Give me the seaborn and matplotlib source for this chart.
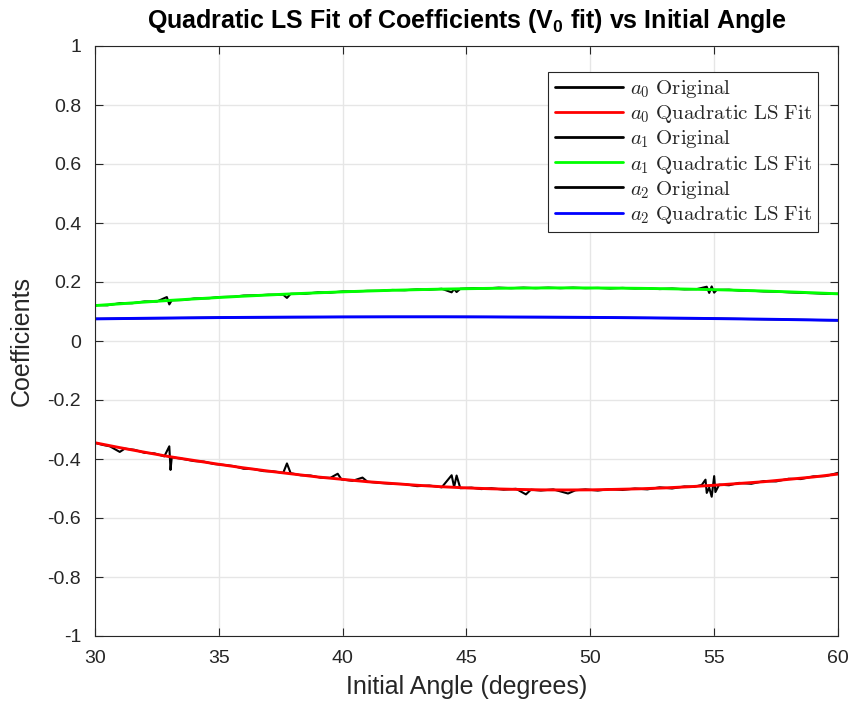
import numpy as np
import pandas as pd
import matplotlib
matplotlib.use("Agg")
import matplotlib.pyplot as plt
from matplotlib.font_manager import FontProperties
import seaborn as sns

# ---- data -------------------------------------------------------------
fit_angle = list(range(30, 61))

a0_fit = [-0.345, -0.3615, -0.377, -0.392, -0.405, -0.418, -0.430, -0.441,
          -0.451, -0.461, -0.469, -0.477, -0.483, -0.489, -0.494, -0.498,
          -0.501, -0.503, -0.5046, -0.505, -0.5046, -0.503, -0.501, -0.498,
          -0.494, -0.489, -0.483, -0.477, -0.469, -0.461, -0.451]

a1_fit = [0.120, 0.126, 0.132, 0.1375, 0.1426, 0.1475, 0.152, 0.156, 0.160,
          0.1634, 0.1666, 0.1694, 0.1719, 0.174, 0.1758, 0.1773, 0.1785,
          0.1793, 0.1798, 0.180, 0.1798, 0.1793, 0.1785, 0.1773, 0.1758,
          0.174, 0.1719, 0.1694, 0.1666, 0.1634, 0.160]

a2_fit = [0.0750, 0.0760, 0.0770, 0.0779, 0.0786, 0.0794, 0.0800, 0.0805,
          0.0810, 0.0813, 0.0816, 0.0818, 0.0820, 0.0820, 0.0820, 0.0818,
          0.0816, 0.0813, 0.0810, 0.0805, 0.0800, 0.0794, 0.0786, 0.0779,
          0.0770, 0.0760, 0.0750, 0.0739, 0.0727, 0.0714, 0.0700]

a0_orig_angle = [30.0, 30.3, 30.6, 31.0, 31.2, 31.6, 32.0, 32.4, 32.8, 33.0,
                 33.05, 33.1, 33.5, 34.0, 34.4, 34.8, 35.2, 35.6, 36.0, 36.4,
                 36.8, 37.2, 37.6, 37.75, 37.9, 38.3, 38.7, 39.1, 39.5, 39.8,
                 39.95, 40.4, 40.8, 41.0, 41.5, 42.0, 42.5, 43.0, 43.5, 44.0,
                 44.4, 44.5, 44.6, 44.75, 45.2, 45.6, 46.0, 46.5, 47.0, 47.4,
                 47.6, 48.0, 48.5, 49.1, 49.4, 49.8, 50.3, 50.8, 51.3, 51.8,
                 52.3, 52.8, 53.3, 53.8, 54.2, 54.5, 54.65, 54.7, 54.8, 54.9,
                 55.0, 55.05, 55.2, 55.6, 56.0, 56.5, 57.0, 57.5, 58.0, 58.5,
                 59.0, 59.5, 60.0]
a0_orig = [-0.345, -0.352, -0.357, -0.376, -0.365, -0.369, -0.379, -0.381,
           -0.391, -0.357, -0.437, -0.394, -0.399, -0.407, -0.409, -0.417,
           -0.420, -0.424, -0.433, -0.434, -0.441, -0.442, -0.447, -0.415,
           -0.448, -0.455, -0.456, -0.463, -0.464, -0.450, -0.469, -0.474,
           -0.463, -0.477, -0.481, -0.484, -0.485, -0.492, -0.490, -0.496,
           -0.455, -0.495, -0.456, -0.499, -0.497, -0.502, -0.499, -0.504,
           -0.501, -0.520, -0.504, -0.507, -0.503, -0.517, -0.506, -0.503,
           -0.507, -0.502, -0.505, -0.500, -0.503, -0.496, -0.500, -0.493,
           -0.494, -0.488, -0.470, -0.515, -0.497, -0.528, -0.458, -0.512,
           -0.487, -0.489, -0.481, -0.484, -0.475, -0.476, -0.467, -0.468,
           -0.459, -0.458, -0.447]

a1_orig_angle = [30.0, 30.5, 31.0, 31.5, 32.0, 32.5, 32.9, 33.0, 33.1, 33.6,
                 34.0, 34.6, 35.0, 35.6, 36.0, 36.6, 37.0, 37.6, 37.75, 37.9,
                 38.5, 39.0, 39.5, 40.0, 40.5, 41.0, 41.5, 42.0, 42.5, 43.0,
                 43.5, 44.0, 44.4, 44.5, 44.6, 44.75, 45.3, 45.8, 46.3, 46.8,
                 47.3, 47.8, 48.3, 48.8, 49.3, 49.8, 50.3, 50.8, 51.3, 51.8,
                 52.3, 52.8, 53.3, 53.8, 54.3, 54.7, 54.8, 54.9, 55.0, 55.1,
                 55.6, 56.0, 56.6, 57.0, 57.6, 58.0, 58.6, 59.0, 59.5, 60.0]
a1_orig = [0.122, 0.121, 0.128, 0.128, 0.134, 0.134, 0.149, 0.124, 0.138,
           0.139, 0.144, 0.145, 0.149, 0.150, 0.154, 0.155, 0.157, 0.157,
           0.146, 0.160, 0.160, 0.165, 0.164, 0.168, 0.168, 0.170, 0.170,
           0.173, 0.172, 0.175, 0.174, 0.177, 0.165, 0.176, 0.166, 0.177,
           0.179, 0.178, 0.181, 0.179, 0.181, 0.179, 0.181, 0.179, 0.181,
           0.179, 0.180, 0.178, 0.180, 0.178, 0.179, 0.176, 0.178, 0.175,
           0.176, 0.184, 0.163, 0.185, 0.164, 0.173, 0.174, 0.171, 0.170,
           0.168, 0.167, 0.165, 0.163, 0.162, 0.160, 0.160]

a2_orig_angle = [30, 35, 40, 45, 50, 55, 60]
a2_orig = [0.0750, 0.0795, 0.0815, 0.0818, 0.0800, 0.0761, 0.0700]

x_ticks = [30, 35, 40, 45, 50, 55, 60]
y_ticks = [-1, -0.8, -0.6, -0.4, -0.2, 0, 0.2, 0.4, 0.6, 0.8, 1]
y_tick_labels = ["-1", "-0.8", "-0.6", "-0.4", "-0.2", "0",
                 "0.2", "0.4", "0.6", "0.8", "1"]

# ---- style ------------------------------------------------------------
sns.set_style("white")
plt.rcParams["font.family"] = ["Liberation Sans", "DejaVu Sans"]
plt.rcParams["axes.unicode_minus"] = False
plt.rcParams["mathtext.fontset"] = "custom"
plt.rcParams["mathtext.rm"] = "Liberation Sans:bold"
plt.rcParams["mathtext.it"] = "Liberation Sans:bold"
plt.rcParams["mathtext.bf"] = "Liberation Sans:bold"

fig = plt.figure(figsize=(8.54, 7.10), dpi=100)
ax = fig.add_axes([95 / 854, 74 / 710, 743 / 854, 590 / 710])

orig_lw = 1.5
fit_lw = 2.1

series = [
    (a0_orig_angle, a0_orig, "black", orig_lw, r"$a_0\ \mathrm{Original}$"),
    (fit_angle, a0_fit, "#ff0000", fit_lw, r"$a_0\ \mathrm{Quadratic\ LS\ Fit}$"),
    (a1_orig_angle, a1_orig, "black", orig_lw, r"$a_1\ \mathrm{Original}$"),
    (fit_angle, a1_fit, "#00ff00", fit_lw, r"$a_1\ \mathrm{Quadratic\ LS\ Fit}$"),
    (a2_orig_angle, a2_orig, "black", orig_lw, r"$a_2\ \mathrm{Original}$"),
    (fit_angle, a2_fit, "#0000ff", fit_lw, r"$a_2\ \mathrm{Quadratic\ LS\ Fit}$"),
]
for xs, ys, col, lw, lab in series:
    df = pd.DataFrame({"angle": xs, "coef": ys})
    sns.lineplot(data=df, x="angle", y="coef", ax=ax, color=col, lw=lw,
                 label=lab, sort=False, estimator=None)

ax.set_xlim(30, 60)
ax.set_ylim(-1, 1)
ax.set_xticks(x_ticks)
ax.set_xticklabels([str(t) for t in x_ticks])
ax.set_yticks(y_ticks)
ax.set_yticklabels(y_tick_labels)

ax.grid(True, color="#e6e6e6", lw=1.0)
ax.set_axisbelow(True)
for sp in ax.spines.values():
    sp.set_color("#262626")
    sp.set_linewidth(0.8)
    sp.set_visible(True)
ax.tick_params(direction="in", length=6, width=0.8, color="#262626",
               labelsize=14, labelcolor="#262626", top=True, right=True,
               bottom=True, left=True)
ax.tick_params(axis="y", pad=10)
ax.tick_params(axis="x", pad=10)

ax.set_xlabel("Initial Angle (degrees)", fontsize=18, color="#262626",
              labelpad=6)
ax.set_ylabel("Coefficients", fontsize=18, color="#262626", labelpad=10)
ax.set_title(r"Quadratic LS Fit of Coefficients ($\mathrm{V}_0$ fit) vs Initial Angle",
             fontsize=18, fontweight="bold", color="black", pad=13)

leg_font = FontProperties(size=15, math_fontfamily="cm")
leg = ax.legend(loc="upper right", bbox_to_anchor=(0.973, 0.956),
                prop=leg_font, frameon=True, fancybox=False, framealpha=1,
                edgecolor="#262626", handlelength=3.3, handletextpad=0.3,
                labelspacing=0.15, borderpad=0.3, borderaxespad=0.0)
leg.get_frame().set_linewidth(0.8)
for line in leg.get_lines():
    line.set_linewidth(2.0)

fig.savefig("out.png", dpi=100)
